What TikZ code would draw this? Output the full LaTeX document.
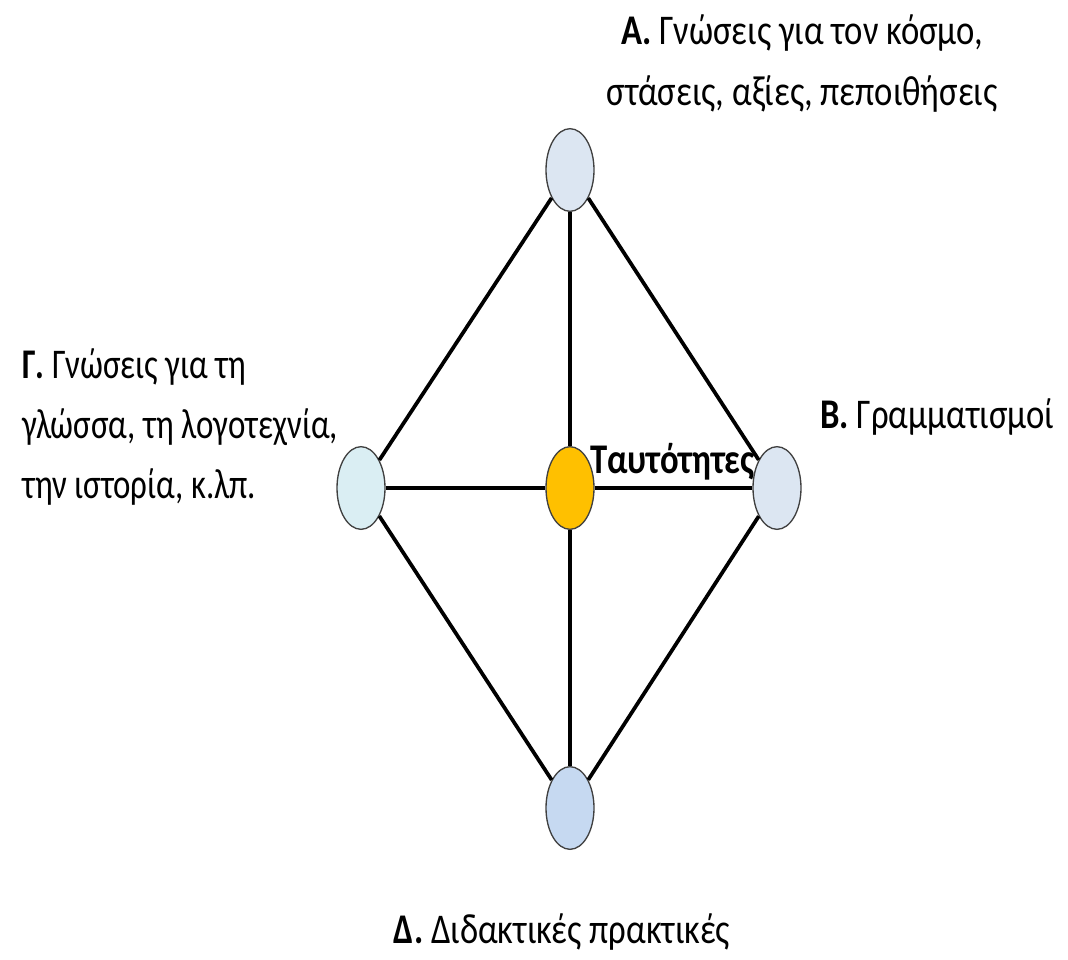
\documentclass[tikz,border=0pt]{standalone}
\usepackage{fontspec}
\usepackage{graphicx}
\setmainfont{Carlito}
\definecolor{topfill}{HTML}{DCE6F2}
\definecolor{leftfill}{HTML}{DAEEF3}
\definecolor{midfill}{HTML}{FFC000}
\definecolor{botfill}{HTML}{C6D9F1}
\definecolor{rim}{HTML}{404040}
\newcommand{\tall}[1]{\scalebox{1}[1.22]{#1}}
\newcommand{\tallnarrow}[1]{\scalebox{0.95}[1.22]{#1}}
\tikzset{
  vtx/.style={ellipse, draw=rim, line width=1pt, minimum width=36pt, minimum height=62pt, inner sep=0pt},
  edge/.style={line width=2.8pt, black},
  lbl/.style={inner sep=0pt, font=\fontsize{26}{30}\selectfont},
}
\usetikzlibrary{shapes.geometric}
\begin{document}
\begin{tikzpicture}[x=0.75pt,y=-0.75pt]
\useasboundingbox (0,0) rectangle (1068,960);
\node[vtx, fill=topfill] (A) at (570,170) {};
\node[vtx, fill=leftfill] (G) at (361,488) {};
\node[vtx, fill=midfill] (T) at (570,488) {};
\node[vtx, fill=topfill] (B) at (777,488) {};
\node[vtx, fill=botfill] (D) at (570,808) {};
\draw[edge] (A) -- (G);
\draw[edge] (A) -- (B);
\draw[edge] (A) -- (T);
\draw[edge] (G) -- (T);
\draw[edge] (T) -- (B);
\draw[edge] (T) -- (D);
\draw[edge] (G) -- (D);
\draw[edge] (B) -- (D);
\node[lbl, anchor=base] (a1) at (802,45) {\tall{\textbf{Α.} Γνώσεις για τον κόσμο,}};
\node[lbl, anchor=base] (a2) at (802,105) {\tall{στάσεις, αξίες, πεποιθήσεις}};
\node[lbl, anchor=base west] (g1) at (22,378) {\tallnarrow{\textbf{Γ.} Γνώσεις για τη}};
\node[lbl, anchor=base west] (g2) at (22,438) {\tallnarrow{γλώσσα, τη λογοτεχνία,}};
\node[lbl, anchor=base west] (g3) at (22,498) {\tallnarrow{την ιστορία, κ.λπ.}};
\node[lbl, anchor=base west] (b1) at (820,428) {\tall{\textbf{Β.} Γραμματισμοί}};
\node[lbl, anchor=base] (d1) at (562,943) {\tall{\textbf{Δ.} Διδακτικές πρακτικές}};
\node[lbl, anchor=base west] (t1) at (590,473) {\tall{\textbf{Ταυτότητες}}};
\end{tikzpicture}
\end{document}
